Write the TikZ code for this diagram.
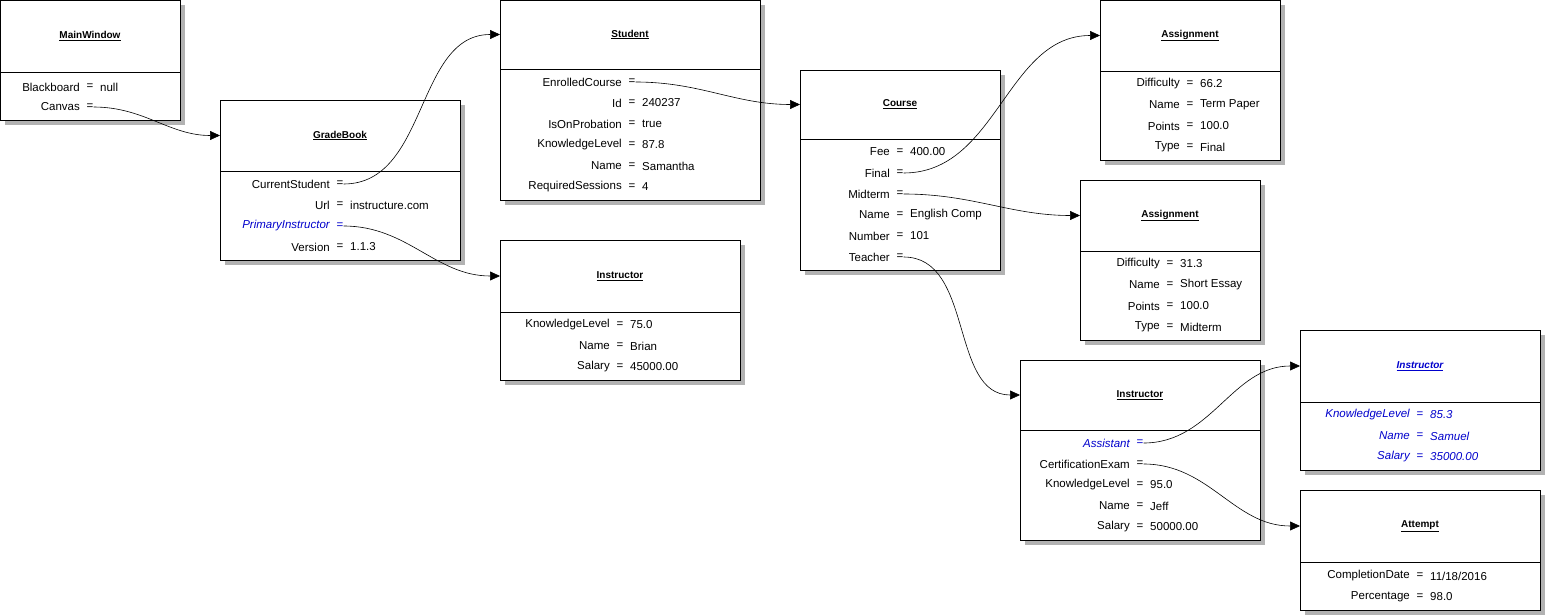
\documentclass[tikz,border=0pt]{standalone}
\usepackage{fontspec}
\setmainfont{Liberation Sans}
\usetikzlibrary{arrows.meta}
\newcommand\objbox[8]{%
  \fill[black!30] (#2+5,#3+5) rectangle (#4+5,#5+5);
  \draw[fill=white] (#2,#3) rectangle (#4,#5);
  \draw (#2,#6) -- (#4,#6);
  \node[font=\bfseries,text=#8] (#1) at ({(#2+#4)/2},{(#3+#6)/2}) {\underline{#7}};
  \coordinate (#1in) at (#2,{(#3+#6)/2});
}
\newcommand\rw[6]{%
  \node[anchor=east,inner sep=0pt,text=#6] at (#1-10,#2) {#3};
  \node[inner sep=0pt,text=#6] (#5) at (#1,#2) {=};
  \node[anchor=west,inner sep=0pt,text=#6] at (#1+10,#2) {#4};
}
\begin{document}
\begin{tikzpicture}[x=1pt,y=-1pt,font=\fontsize{11.5}{13}\selectfont,
  conn/.style={-{Triangle[length=10pt,width=9pt]},line width=0.6pt}]
\useasboundingbox (0,0) rectangle (1545,615);
\colorlet{bl}{blue!80!black}
\objbox{mw}{0}{0}{180}{120}{72}{MainWindow}{black}
\rw{90}{87}{Blackboard}{null}{mwa}{black}
\rw{90}{107}{Canvas}{}{mwb}{black}
\objbox{gb}{220}{100}{460}{260}{171}{GradeBook}{black}
\rw{340}{184}{CurrentStudent}{}{gba}{black}
\rw{340}{205}{Url}{instructure.com}{gbb}{black}
\rw{340}{226}{\itshape PrimaryInstructor}{}{gbc}{bl}
\rw{340}{247}{Version}{1.1.3}{gbd}{black}
\objbox{st}{500}{0}{760}{200}{69}{Student}{black}
\rw{632}{82}{EnrolledCourse}{}{sta}{black}
\rw{632}{103}{Id}{240237}{stb}{black}
\rw{632}{124}{IsOnProbation}{true}{stc}{black}
\rw{632}{145}{KnowledgeLevel}{87.8}{std}{black}
\rw{632}{166}{Name}{Samantha}{ste}{black}
\rw{632}{187}{RequiredSessions}{4}{stf}{black}
\objbox{ia}{500}{240}{740}{380}{312}{Instructor}{black}
\rw{620}{325}{KnowledgeLevel}{75.0}{iaa}{black}
\rw{620}{346}{Name}{Brian}{iab}{black}
\rw{620}{367}{Salary}{45000.00}{iac}{black}
\objbox{co}{800}{70}{1000}{270}{139}{Course}{black}
\rw{900}{152}{Fee}{400.00}{coa}{black}
\rw{900}{173}{Final}{}{cob}{black}
\rw{900}{194}{Midterm}{}{coc}{black}
\rw{900}{215}{Name}{English Comp}{cod}{black}
\rw{900}{236}{Number}{101}{coe}{black}
\rw{900}{257}{Teacher}{}{cof}{black}
\objbox{as}{1100}{0}{1280}{160}{71}{Assignment}{black}
\rw{1190}{84}{Difficulty}{66.2}{asa}{black}
\rw{1190}{105}{Name}{Term Paper}{asb}{black}
\rw{1190}{126}{Points}{100.0}{asc}{black}
\rw{1190}{147}{Type}{Final}{asd}{black}
\objbox{at}{1080}{180}{1260}{340}{251}{Assignment}{black}
\rw{1170}{264}{Difficulty}{31.3}{ata}{black}
\rw{1170}{285}{Name}{Short Essay}{atb}{black}
\rw{1170}{306}{Points}{100.0}{atc}{black}
\rw{1170}{327}{Type}{Midterm}{atd}{black}
\objbox{ib}{1020}{360}{1260}{540}{430}{Instructor}{black}
\rw{1140}{443}{\itshape Assistant}{}{iba}{bl}
\rw{1140}{464}{CertificationExam}{}{ibb}{black}
\rw{1140}{485}{KnowledgeLevel}{95.0}{ibc}{black}
\rw{1140}{506}{Name}{Jeff}{ibd}{black}
\rw{1140}{527}{Salary}{50000.00}{ibe}{black}
\objbox{ic}{1300}{330}{1540}{470}{402}{\itshape Instructor}{bl}
\rw{1420}{415}{\itshape KnowledgeLevel}{\itshape 85.3}{ica}{bl}
\rw{1420}{436}{\itshape Name}{\itshape Samuel}{icb}{bl}
\rw{1420}{457}{\itshape Salary}{\itshape 35000.00}{icc}{bl}
\objbox{ap}{1300}{490}{1540}{610}{562}{Attempt}{black}
\rw{1420}{576}{CompletionDate}{11/18/2016}{apa}{black}
\rw{1420}{597}{Percentage}{98.0}{apb}{black}
\draw[conn] (mwb.east) to[out=0,in=180] (gbin);
\draw[conn] (gba.east) to[out=0,in=180] (stin);
\draw[conn] (gbc.east) to[out=0,in=180] (iain);
\draw[conn] (sta.east) to[out=0,in=180] (coin);
\draw[conn] (cob.east) to[out=0,in=180] (asin);
\draw[conn] (coc.east) to[out=0,in=180] (atin);
\draw[conn] (cof.east) to[out=0,in=180] (ibin);
\draw[conn] (iba.east) to[out=0,in=180] (icin);
\draw[conn] (ibb.east) to[out=0,in=180] (apin);
\end{tikzpicture}
\end{document}
